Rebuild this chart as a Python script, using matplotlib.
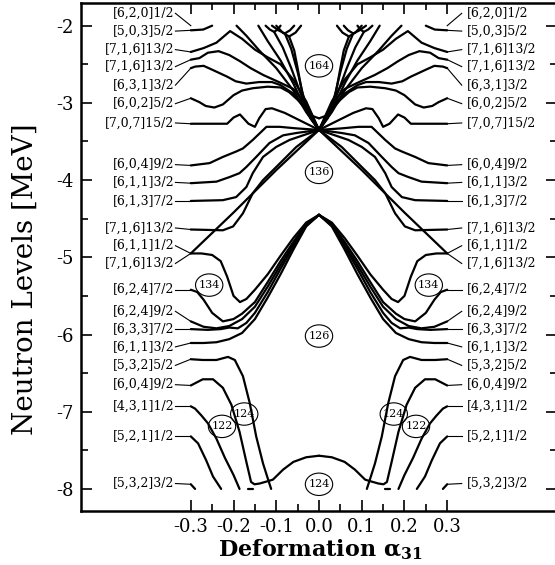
import numpy as np
import matplotlib
matplotlib.use("Agg")
import matplotlib.pyplot as plt
from matplotlib.patches import Ellipse

plt.rcParams["font.family"] = "DejaVu Serif"
plt.rcParams["axes.unicode_minus"] = False
plt.rcParams["mathtext.fontset"] = "dejavuserif"

# Levels for alpha31 >= 0 (the diagram is mirror symmetric about alpha31 = 0)
# upper fan, starting at the crossing near -3.35 MeV
a_503 = [0.25, 0.271, 0.3]
e_503 = [-2.0, -2.05, -2.06]
a_716a = [0, 0.03, 0.06, 0.09, 0.12, 0.15, 0.18, 0.208, 0.24, 0.27, 0.3]
e_716a = [-3.35, -2.98, -2.70, -2.50, -2.41, -2.31, -2.17, -2.07, -2.22, -2.29, -2.34]
a_716b = [0, 0.03, 0.06, 0.09, 0.13, 0.16, 0.185, 0.21, 0.235, 0.26, 0.28, 0.3]
e_716b = [-3.35, -3.02, -2.82, -2.74, -2.64, -2.55, -2.46, -2.38, -2.33, -2.35, -2.42, -2.44]
a_631 = [0, 0.03, 0.06, 0.09, 0.11, 0.14, 0.17, 0.195, 0.215, 0.25, 0.27, 0.29, 0.3]
e_631 = [-3.35, -3.07, -2.88, -2.77, -2.73, -2.73, -2.75, -2.72, -2.66, -2.57, -2.52, -2.53, -2.55]
a_602 = [0, 0.02, 0.05, 0.07, 0.09, 0.12, 0.155, 0.18, 0.2, 0.225, 0.245, 0.265, 0.28, 0.3]
e_602 = [-3.35, -3.15, -2.96, -2.86, -2.80, -2.79, -2.81, -2.84, -2.90, -3.02, -3.06, -3.04, -2.99, -2.94]
a_707 = [0, 0.04, 0.08, 0.11, 0.125, 0.14, 0.15, 0.165, 0.185, 0.2, 0.215, 0.25, 0.3]
e_707 = [-3.35, -3.24, -3.13, -3.07, -3.08, -3.20, -3.31, -3.27, -3.15, -3.19, -3.27, -3.27, -3.27]
a_fan1 = [0, 0.03, 0.06, 0.09, 0.12, 0.142]
e_fan1 = [-3.35, -3.10, -2.75, -2.45, -2.20, -2.0]
a_fan2 = [0, 0.03, 0.06, 0.10, 0.14, 0.17, 0.193]
e_fan2 = [-3.35, -3.12, -2.84, -2.55, -2.32, -2.13, -2.0]
# the V around 164 and the small U-shaped crossings at the top
a_v = [0, 0.015, 0.03, 0.04, 0.05, 0.058, 0.07]
e_v = [-3.20, -3.17, -3.05, -2.85, -2.55, -2.32, -2.14]
a_sb = [0, 0.02, 0.035, 0.05, 0.065, 0.08]
e_sb = [-3.35, -3.20, -2.95, -2.60, -2.30, -2.10]
a_sc = [0, 0.025, 0.045, 0.065, 0.085, 0.105]
e_sc = [-3.35, -3.15, -2.85, -2.55, -2.28, -2.08]
a_ua = [0.042, 0.055, 0.07, 0.085, 0.10]
e_ua = [-2.0, -2.09, -2.14, -2.09, -2.0]
a_ub = [0.058, 0.068, 0.08, 0.095, 0.11]
e_ub = [-2.0, -2.06, -2.10, -2.06, -2.0]
a_uc = [0.09, 0.097, 0.105, 0.115, 0.125]
e_uc = [-2.0, -2.05, -2.08, -2.05, -2.0]

# lower fan from the crossing (bounding the 136 gap)
a_604 = [0, 0.053, 0.092, 0.123, 0.155, 0.178, 0.194, 0.225, 0.256, 0.3]
e_604 = [-3.35, -3.33, -3.31, -3.31, -3.48, -3.59, -3.63, -3.70, -3.78, -3.81]
a_611a = [0, 0.053, 0.084, 0.116, 0.147, 0.170, 0.186, 0.209, 0.24, 0.3]
e_611a = [-3.35, -3.39, -3.42, -3.52, -3.70, -3.83, -3.91, -3.96, -4.02, -4.04]
a_613 = [0, 0.069, 0.1, 0.131, 0.155, 0.17, 0.194, 0.225, 0.3]
e_613 = [-3.35, -3.48, -3.57, -3.70, -3.91, -4.09, -4.22, -4.26, -4.27]
a_716c = [0, 0.053, 0.1, 0.131, 0.155, 0.178, 0.201, 0.225, 0.3]
e_716c = [-3.35, -3.57, -3.83, -4.00, -4.17, -4.43, -4.60, -4.65, -4.64]
a_716d = [0, 0.1, 0.2, 0.3]
e_716d = [-3.35, -3.87, -4.42, -4.95]

# bundle from the maximum near -4.45 MeV
a_611b = [0, 0.03, 0.06, 0.09, 0.12, 0.15, 0.17, 0.185, 0.2, 0.215, 0.23, 0.25, 0.275, 0.3]
e_611b = [-4.45, -4.55, -4.75, -4.98, -5.22, -5.42, -5.54, -5.58, -5.50, -5.25, -5.05, -4.97, -4.95, -4.95]
a_624a = [0, 0.03, 0.06, 0.09, 0.12, 0.15, 0.18, 0.2, 0.225, 0.25, 0.27, 0.285, 0.3]
e_624a = [-4.45, -4.57, -4.80, -5.05, -5.32, -5.58, -5.73, -5.80, -5.83, -5.72, -5.55, -5.45, -5.42]
a_624b = [0, 0.03, 0.06, 0.09, 0.12, 0.15, 0.18, 0.21, 0.24, 0.27, 0.3]
e_624b = [-4.45, -4.58, -4.83, -5.10, -5.38, -5.64, -5.80, -5.89, -5.92, -5.90, -5.83]
a_633 = [0, 0.03, 0.06, 0.09, 0.12, 0.15, 0.17, 0.19, 0.21, 0.23, 0.26, 0.3]
e_633 = [-4.45, -4.59, -4.86, -5.15, -5.45, -5.72, -5.85, -5.92, -5.91, -5.93, -5.94, -5.93]
a_611c = [0, 0.03, 0.06, 0.09, 0.12, 0.15, 0.18, 0.21, 0.24, 0.27, 0.3]
e_611c = [-4.45, -4.60, -4.90, -5.22, -5.52, -5.80, -5.98, -6.06, -6.10, -6.11, -6.11]

# bottom levels
a_604b = [0, 0.03, 0.06, 0.084, 0.108, 0.12, 0.139, 0.151, 0.159, 0.17, 0.186, 0.205, 0.225, 0.248, 0.272, 0.3]
e_604b = [-7.57, -7.59, -7.65, -7.75, -7.88, -7.90, -7.93, -7.94, -7.91, -7.65, -7.26, -6.91, -6.69, -6.58, -6.58, -6.66]
a_532a = [0.112, 0.119, 0.131, 0.147, 0.162, 0.178, 0.197, 0.213, 0.24, 0.272, 0.3]
e_532a = [-8.0, -7.88, -7.67, -7.32, -6.89, -6.54, -6.33, -6.29, -6.33, -6.33, -6.32]
a_431 = [0.186, 0.2, 0.22, 0.24, 0.26, 0.275, 0.29, 0.3]
e_431 = [-8.0, -7.82, -7.60, -7.35, -7.15, -7.05, -6.96, -6.93]
a_521 = [0.229, 0.248, 0.264, 0.283, 0.3]
e_521 = [-8.0, -7.84, -7.63, -7.41, -7.32]
a_532b = [0.29, 0.3]
e_532b = [-8.0, -7.94]
a_dash = [0.155, 0.165]
e_dash = [-8.0, -8.0]

# labels at alpha31 = +-0.3 : text, label height, end of the level it points to
lab_txt = ["[6,2,0]1/2", "[5,0,3]5/2", "[7,1,6]13/2", "[7,1,6]13/2", "[6,3,1]3/2",
           "[6,0,2]5/2", "[7,0,7]15/2", "[6,0,4]9/2", "[6,1,1]3/2", "[6,1,3]7/2",
           "[7,1,6]13/2", "[6,1,1]1/2", "[7,1,6]13/2", "[6,2,4]7/2", "[6,2,4]9/2",
           "[6,3,3]7/2", "[6,1,1]3/2", "[5,3,2]5/2", "[6,0,4]9/2", "[4,3,1]1/2",
           "[5,2,1]1/2", "[5,3,2]3/2"]
lab_y = [-1.84, -2.07, -2.31, -2.53, -2.77, -3.01, -3.26, -3.80, -4.03, -4.27,
         -4.62, -4.85, -5.08, -5.42, -5.70, -5.93, -6.16, -6.40, -6.65, -6.93,
         -7.32, -7.93]
lab_end = [-2.0, -2.06, -2.34, -2.44, -2.55, -2.94, -3.27, -3.81, -4.04, -4.27,
           -4.64, -4.95, -4.95, -5.42, -5.83, -5.93, -6.11, -6.32, -6.66, -6.93,
           -7.32, -7.94]

# shell gaps (circled numbers)
gap_x = [0, 0, 0, 0, 0.257, 0.175, 0.227]
gap_y = [-2.52, -3.90, -6.02, -7.94, -5.36, -7.03, -7.19]
gap_txt = ["164", "136", "126", "124", "134", "124", "122"]

curves = [(a_503, e_503), (a_716a, e_716a), (a_716b, e_716b), (a_631, e_631),
          (a_602, e_602), (a_707, e_707), (a_fan1, e_fan1), (a_fan2, e_fan2),
          (a_v, e_v), (a_sb, e_sb), (a_sc, e_sc), (a_ua, e_ua), (a_ub, e_ub),
          (a_uc, e_uc), (a_604, e_604), (a_611a, e_611a), (a_613, e_613),
          (a_716c, e_716c), (a_716d, e_716d), (a_611b, e_611b), (a_624a, e_624a),
          (a_624b, e_624b), (a_633, e_633), (a_611c, e_611c), (a_604b, e_604b),
          (a_532a, e_532a), (a_431, e_431), (a_521, e_521), (a_532b, e_532b),
          (a_dash, e_dash)]

fig = plt.figure(figsize=(5.55, 5.65), dpi=100)
ax = fig.add_axes([81 / 555, 54 / 565, 476 / 555, 507.7 / 565])

for a, e in curves:
    a = np.asarray(a)
    for s in (1, -1):
        ax.plot(s * a, e, color="black", lw=1.6, solid_capstyle="round",
                solid_joinstyle="round")

for t, yl, ye in zip(lab_txt, lab_y, lab_end):
    ax.plot([-0.3, -0.336], [ye, yl], color="black", lw=0.8)
    ax.plot([0.3, 0.334], [ye, yl], color="black", lw=0.8)
    ax.text(-0.339, yl, t, ha="right", va="center", fontsize=9)
    ax.text(0.345, yl, t, ha="left", va="center", fontsize=9)

# ellipses about 27 x 22 px
for gx, gy, gt in zip(gap_x, gap_y, gap_txt):
    xs = [gx] if gx == 0 else [gx, -gx]
    for x in xs:
        ax.add_patch(Ellipse((x, gy), 0.064, 0.29, fc="none", ec="black",
                             lw=0.8))
        ax.text(x, gy, gt, ha="center", va="center", fontsize=8)

ax.set_xlim(-0.557, 0.557)
ax.set_ylim(-8.286, -1.71)
xt = [-0.3, -0.2, -0.1, 0.0, 0.1, 0.2, 0.3]
ax.set_xticks(xt)
ax.set_xticklabels(["-0.3", "-0.2", "-0.1", "0.0", "0.1", "0.2", "0.3"],
                   fontsize=13)
ax.set_xticks([-0.25, -0.15, -0.05, 0.05, 0.15, 0.25], minor=True)
yt = [-2, -3, -4, -5, -6, -7, -8]
ax.set_yticks(yt)
ax.set_yticklabels(["-2", "-3", "-4", "-5", "-6", "-7", "-8"], fontsize=13)
ax.set_yticks([-2.5, -3.5, -4.5, -5.5, -6.5, -7.5], minor=True)
ax.tick_params(which="both", direction="in", top=True, right=True, width=1.2)
ax.tick_params(which="major", length=8, pad=5)
ax.tick_params(which="minor", length=5)
for sp in ax.spines.values():
    sp.set_linewidth(1.8)

fig.text(25 / 555, 0.505, "Neutron Levels [MeV]", rotation=90, ha="center",
         va="center", fontsize=20)
fig.text(320 / 555, 0.027, r"Deformation $\mathbf{\alpha_{31}}$", ha="center",
         va="center", fontsize=16, fontweight="bold")

fig.savefig("out.png", dpi=100)
